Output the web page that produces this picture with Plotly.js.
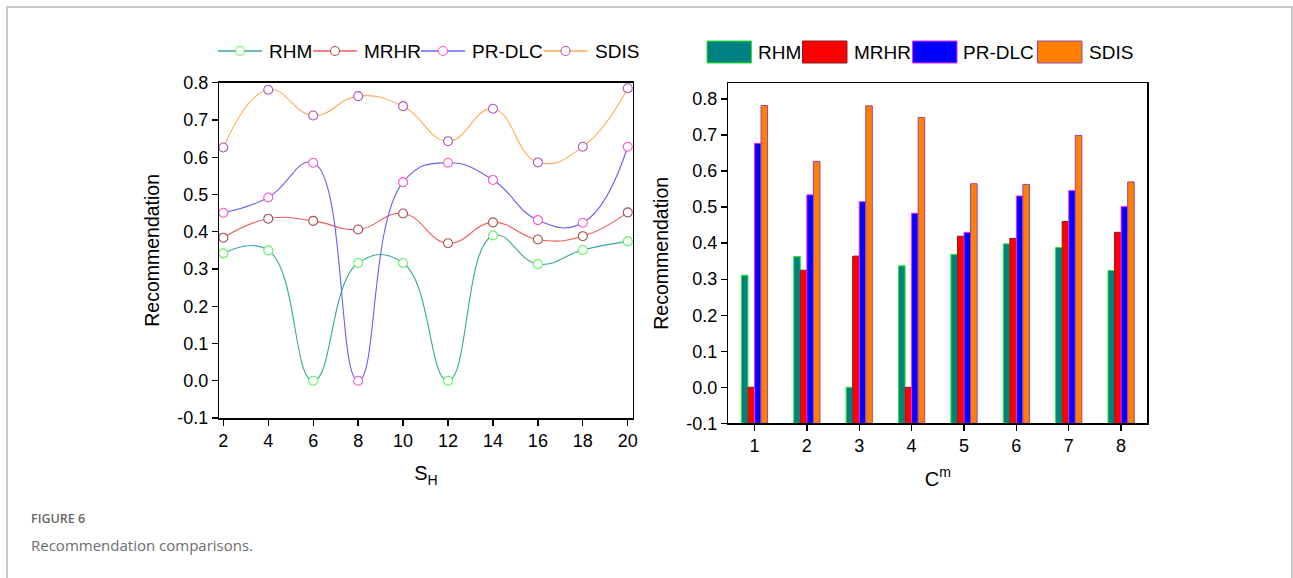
<!DOCTYPE html>
<html><head><meta charset="utf-8">
<script src="https://cdn.plot.ly/plotly-3.0.1.min.js"></script>
<style>
body{margin:0;background:#fff;}
#frame{position:absolute;left:6px;top:6px;width:1283px;height:640px;border:2px solid #c8c8c8;border-bottom:none;}
#chart{position:absolute;left:0;top:0;width:1293px;height:578px;}
</style></head><body>
<div id="frame"></div>
<div id="chart"></div>
<script>
// ---- data: left panel (line chart vs S_H) ----
const sH = [2, 4, 6, 8, 10, 12, 14, 16, 18, 20];
const lineRHM   = [0.342, 0.350, 0.000, 0.316, 0.316, 0.000, 0.390, 0.313, 0.351, 0.374];
const lineMRHR  = [0.384, 0.435, 0.429, 0.406, 0.449, 0.369, 0.425, 0.379, 0.388, 0.452];
const linePRDLC = [0.451, 0.492, 0.585, 0.000, 0.533, 0.585, 0.539, 0.431, 0.424, 0.628];
const lineSDIS  = [0.626, 0.781, 0.712, 0.764, 0.737, 0.643, 0.730, 0.586, 0.628, 0.785];

// ---- data: right panel (bar chart vs C^m) ----
const cm = [1, 2, 3, 4, 5, 6, 7, 8];
const barRHM   = [0.311, 0.363, 0.000, 0.337, 0.369, 0.398, 0.388, 0.324];
const barMRHR  = [0.000, 0.325, 0.364, 0.000, 0.419, 0.413, 0.460, 0.430];
const barPRDLC = [0.677, 0.534, 0.515, 0.483, 0.430, 0.531, 0.546, 0.502];
const barSDIS  = [0.782, 0.627, 0.781, 0.749, 0.565, 0.563, 0.699, 0.570];

const seriesNames = ['RHM', 'MRHR', 'PR-DLC', 'SDIS'];
const yTickVals = [-0.1, 0.0, 0.1, 0.2, 0.3, 0.4, 0.5, 0.6, 0.7, 0.8];
const yTickText = ['-0.1', '0.0', '0.1', '0.2', '0.3', '0.4', '0.5', '0.6', '0.7', '0.8'];
const xTickLeft = [2, 4, 6, 8, 10, 12, 14, 16, 18, 20];
const xTickRight = [1, 2, 3, 4, 5, 6, 7, 8];

// ---- styles ----
const lineColors   = ['#3aa89c', '#f25a5a', '#6262f5', '#ffaa55'];
const markerColors = ['#5cf55c', '#a65050', '#ff55cc', '#b055b5'];
const barFill      = ['#008080', '#ff0000', '#0000ff', '#ff8000'];
const barEdge      = ['#22ee22', '#8b1c1c', '#ff22ff', '#9a45a8'];
const FONT = 'Liberation Sans, Arial, sans-serif';
const CAPFONT = 'Open Sans, sans-serif';
const BASE = -0.1;

const lineData = [lineRHM, lineMRHR, linePRDLC, lineSDIS];
const barData = [barRHM, barMRHR, barPRDLC, barSDIS];

const traces = [];
lineData.forEach((ys, i) => {
  traces.push({
    type: 'scatter', mode: 'lines+markers', name: seriesNames[i],
    x: sH, y: ys, xaxis: 'x', yaxis: 'y',
    line: {color: lineColors[i], width: 1.1, shape: 'spline', smoothing: 1.3},
    marker: {symbol: 'circle', size: 9, color: '#ffffff', line: {width: 1.1, color: markerColors[i]}},
    showlegend: false, cliponaxis: false
  });
});
barData.forEach((ys, i) => {
  traces.push({
    type: 'bar', name: seriesNames[i],
    x: cm, y: ys.map(v => v - BASE), base: BASE, xaxis: 'x2', yaxis: 'y2',
    marker: {color: barFill[i], line: {color: barEdge[i], width: 1}},
    showlegend: false
  });
});

const W = 1293, H = 578;
const px = v => v / W, py = v => 1 - v / H;

const shapes = [];
const annotations = [];
// legend for line panel
const lgLineX = [218, 313, 421, 543.5];
seriesNames.forEach((n, i) => {
  const x0 = lgLineX[i], x1 = x0 + 44, cx = (x0 + x1) / 2, cy = 51;
  shapes.push({type: 'line', xref: 'paper', yref: 'paper',
    x0: px(x0), x1: px(x1), y0: py(cy), y1: py(cy), line: {color: lineColors[i], width: 1.3}});
  shapes.push({type: 'circle', xref: 'paper', yref: 'paper',
    x0: px(cx - 4.5), x1: px(cx + 4.5), y0: py(cy + 4.5), y1: py(cy - 4.5),
    fillcolor: '#ffffff', line: {color: markerColors[i], width: 1.1}});
  annotations.push({xref: 'paper', yref: 'paper', x: px(x1 + 5), y: py(cy),
    xanchor: 'left', yanchor: 'middle', text: n, showarrow: false,
    font: {family: FONT, size: 19, color: '#000'}});
});
// legend for bar panel (large swatches)
const swX = [707, 802.5, 912.5, 1037.5];
seriesNames.forEach((n, i) => {
  shapes.push({type: 'rect', xref: 'paper', yref: 'paper',
    x0: px(swX[i]), x1: px(swX[i] + 44.5), y0: py(63), y1: py(41),
    fillcolor: barFill[i], line: {color: barEdge[i], width: 1}});
  annotations.push({xref: 'paper', yref: 'paper', x: px(swX[i] + 49), y: py(52),
    xanchor: 'left', yanchor: 'middle', text: n, showarrow: false,
    font: {family: FONT, size: 19, color: '#000'}});
});
annotations.push({xref: 'paper', yref: 'paper', x: px(29), y: py(518), xanchor: 'left', yanchor: 'middle',
  text: 'FIGURE 6', showarrow: false, font: {family: CAPFONT, size: 12.5, weight: 600, color: '#666666'}});
annotations.push({xref: 'paper', yref: 'paper', x: px(29), y: py(545), xanchor: 'left', yanchor: 'middle',
  text: 'Recommendation comparisons.', showarrow: false, font: {family: CAPFONT, size: 15, color: '#6e6e6e'}});

const axisCommon = {
  showline: true, linecolor: '#000', linewidth: 1.5, mirror: true,
  ticks: 'outside', ticklen: 6, tickwidth: 1.3, tickcolor: '#000',
  showgrid: false, zeroline: false,
  tickfont: {family: FONT, size: 18, color: '#000'}
};

const layout = {
  width: W, height: H,
  margin: {l: 0, r: 0, t: 0, b: 0},
  paper_bgcolor: 'rgba(0,0,0,0)', plot_bgcolor: 'rgba(0,0,0,0)',
  font: {family: FONT, color: '#000'},
  showlegend: false,
  barmode: 'group', bargap: 0.5, bargroupgap: 0,
  xaxis: Object.assign({}, axisCommon, {
    domain: [px(219.3), px(632.7)], range: [1.82, 20.22], anchor: 'y',
    tickvals: xTickLeft, ticktext: xTickLeft.map(String),
    title: {text: 'S<sub>H</sub>', font: {family: FONT, size: 20}, standoff: 16}
  }),
  yaxis: Object.assign({}, axisCommon, {
    domain: [py(418), py(82.7)], range: [-0.1, 0.8], anchor: 'x',
    tickvals: yTickVals, ticktext: yTickText,
    title: {text: 'Recommendation', font: {family: FONT, size: 19.5}, standoff: 12}
  }),
  xaxis2: Object.assign({}, axisCommon, {
    domain: [px(728.3), px(1147.3)], range: [0.5, 8.5], anchor: 'y2',
    tickvals: xTickRight, ticktext: xTickRight.map(String),
    title: {text: 'C<sup>m</sup>', font: {family: FONT, size: 20}, standoff: 16}
  }),
  yaxis2: Object.assign({}, axisCommon, {
    domain: [py(423.3), py(83.3)], range: [-0.1, 0.8436], anchor: 'x2',
    tickvals: yTickVals, ticktext: yTickText,
    title: {text: 'Recommendation', font: {family: FONT, size: 19.5}, standoff: 12}
  }),
  shapes: shapes, annotations: annotations
};

Plotly.newPlot('chart', traces, layout, {displayModeBar: false, staticPlot: true});
</script>
</body></html>
